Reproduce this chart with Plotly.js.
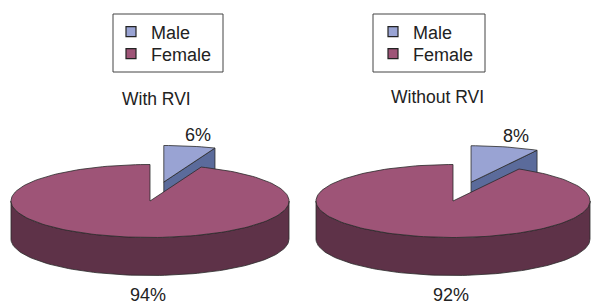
<!DOCTYPE html>
<html>
<head>
<meta charset="utf-8">
<script src="https://cdn.plot.ly/plotly-3.0.1.min.js"></script>
<style>html,body{margin:0;padding:0;background:#fff;}#chart{width:592px;height:301px;}</style>
</head>
<body>
<div id="chart"></div>
<script>
// ---- data ----
const groups = ['With RVI', 'Without RVI'];
const categories = ['Male', 'Female'];
const maleValues = [6, 8];
const femaleValues = [94, 92];

// ---- styling / geometry (not data) ----
const topColors = ['#99a3d3', '#9e5477'];
const sideColors = ['#5b6b9b', '#5e3248'];
const edgeColor = '#2a2a2a';
const FONT = 'Liberation Sans, Arial, sans-serif';
const pies = [
  {cx: 150, cy: 201, rx: 139, ry: 36.5},
  {cx: 453, cy: 201, rx: 137, ry: 36.5}
];
const depth = 38;
const explode = 0.53;
const deg = Math.PI / 180;

const traces = [];
const annotations = [];
const shapes = [];

function poly(pts, fill) {
  const xs = pts.map(p => p[0]), ys = pts.map(p => p[1]);
  xs.push(xs[0]); ys.push(ys[0]);
  traces.push({
    type: 'scatter', mode: 'lines', x: xs, y: ys, fill: 'toself', fillcolor: fill,
    line: {color: edgeColor, width: 0.8}, showlegend: false, hoverinfo: 'skip'
  });
}

groups.forEach((g, gi) => {
  const P = pies[gi];
  const total = maleValues[gi] + femaleValues[gi];
  const pm = maleValues[gi] / total;
  const rim = (t, dx, dy) => [P.cx + dx + P.rx * Math.cos(t * deg), P.cy + dy - P.ry * Math.sin(t * deg)];
  const arc = (a0, a1, dx, dy) => {
    const n = Math.max(4, Math.ceil(Math.abs(a1 - a0) / 2));
    const out = [];
    for (let i = 0; i <= n; i++) out.push(rim(a0 + (a1 - a0) * i / n, dx, dy));
    return out;
  };
  const start = 90, endM = 90 - 360 * pm, mid = 90 - 180 * pm;
  const ox = explode * P.rx * Math.cos(mid * deg);
  const oy = -explode * P.ry * Math.sin(mid * deg);
  const apexM = [P.cx + ox, P.cy + oy];
  // male cut face (visible side)
  const rEnd = rim(endM, ox, oy);
  poly([apexM, rEnd, [rEnd[0], rEnd[1] + depth], [apexM[0], apexM[1] + depth]], sideColors[0]);
  // male top
  poly([apexM].concat(arc(start, endM, ox, oy)), topColors[0]);
  // female side (front arc)
  const topArc = arc(180, 360, 0, 0);
  const botArc = arc(360, 180, 0, depth);
  poly(topArc.concat(botArc), sideColors[1]);
  // female top
  poly([[P.cx, P.cy]].concat(arc(endM, start - 360, 0, 0)), topColors[1]);

  // labels
  const lm = rim(mid, ox, oy);
  annotations.push({
    x: apexM[0] + 1.32 * (lm[0] - apexM[0]), y: apexM[1] + 1.32 * (lm[1] - apexM[1]),
    xref: 'x', yref: 'y', text: maleValues[gi] + '%', showarrow: false,
    font: {family: FONT, size: 18, color: '#222'}
  });
  annotations.push({
    x: P.cx - 2, y: P.cy + P.ry + depth + 19, xref: 'x', yref: 'y',
    text: femaleValues[gi] + '%', showarrow: false,
    font: {family: FONT, size: 18, color: '#222'}
  });
});

// titles
const titlePos = [[156, 99], [437, 97]];
groups.forEach((g, gi) => {
  annotations.push({
    x: titlePos[gi][0], y: titlePos[gi][1], xref: 'x', yref: 'y', text: g, showarrow: false,
    font: {family: FONT, size: 17.5, color: '#222'}
  });
});

// legend boxes
const boxes = [[113, 14, 223, 72], [373, 14, 485, 72]];
boxes.forEach(b => shapes.push({
  type: 'rect', xref: 'x', yref: 'y', x0: b[0], y0: b[1], x1: b[2], y1: b[3],
  line: {color: '#444', width: 1}, fillcolor: 'rgba(0,0,0,0)', layer: 'above'
}));

// legend entries: one legend per entry so spacing matches the reference
const W = 592, H = 301;
const legendX = [111, 373];
const legendY = [32, 54];
const legendLayouts = {};
let li = 1;
groups.forEach((g, gi) => {
  categories.forEach((c, ci) => {
    const key = li === 1 ? 'legend' : 'legend' + li;
    traces.push({
      type: 'scatter', mode: 'markers', x: [null], y: [null], name: c, legend: key,
      marker: {symbol: 'square', size: 10, color: topColors[ci], line: {color: '#222', width: 1.2}},
      hoverinfo: 'skip'
    });
    legendLayouts[key] = {
      x: legendX[gi] / W, y: 1 - legendY[ci] / H, xanchor: 'left', yanchor: 'middle',
      font: {family: FONT, size: 18, color: '#222'}, bgcolor: 'rgba(0,0,0,0)', borderwidth: 0,
      itemclick: false, itemdoubleclick: false
    };
    li++;
  });
});

const layout = Object.assign({
  width: W, height: H, margin: {l: 0, r: 0, t: 0, b: 0},
  paper_bgcolor: '#fff', plot_bgcolor: '#fff',
  xaxis: {range: [0, W], visible: false, fixedrange: true},
  yaxis: {range: [H, 0], visible: false, fixedrange: true},
  showlegend: true,
  annotations: annotations, shapes: shapes
}, legendLayouts);

Plotly.newPlot('chart', traces, layout, {staticPlot: true, displayModeBar: false});
</script>
</body>
</html>
